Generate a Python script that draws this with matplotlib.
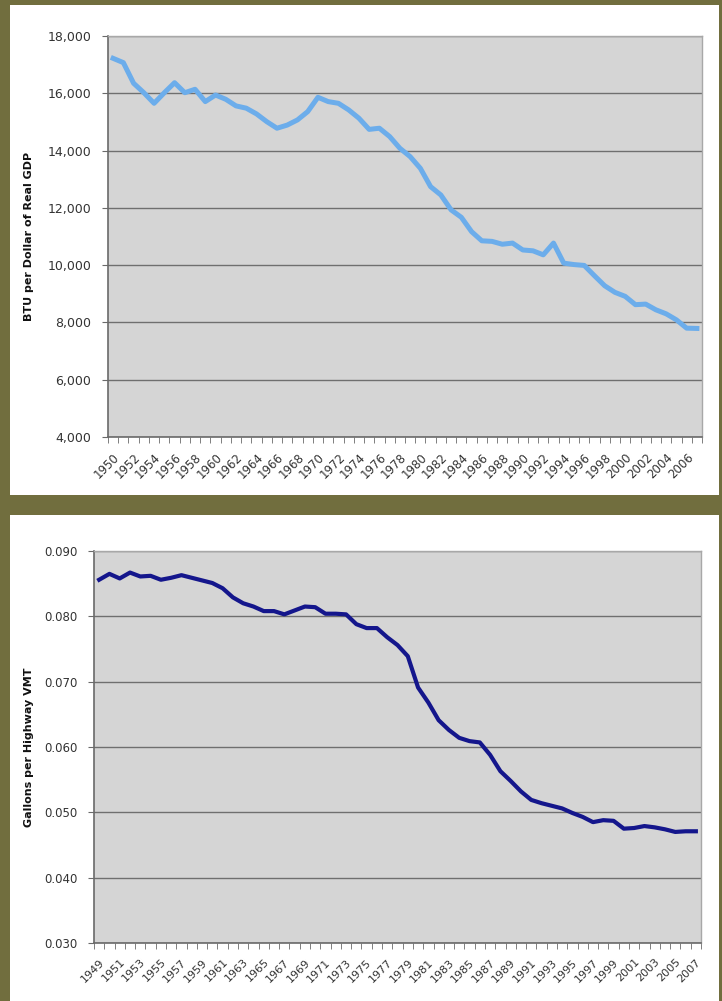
import matplotlib
matplotlib.use("Agg")
import matplotlib.pyplot as plt
from matplotlib.patches import Rectangle
from matplotlib.ticker import FuncFormatter
import numpy as np

# energy intensity of the economy, 1950-2007
gdp_years = list(range(1950, 2008))
btu_per_gdp = [17220, 17070, 16350, 16020, 15650, 16020, 16370, 16020, 16140, 15710,
               15940, 15790, 15560, 15480, 15280, 15010, 14780, 14890, 15070, 15360,
               15860, 15710, 15650, 15420, 15130, 14740, 14780, 14490, 14080, 13790,
               13380, 12740, 12450, 11930, 11670, 11170, 10850, 10830, 10730, 10770,
               10530, 10500, 10360, 10770, 10070, 10020, 9990, 9630, 9280, 9050,
               8910, 8620, 8640, 8440, 8300, 8090, 7800, 7790]

# fuel used per highway vehicle-mile, 1949-2007
vmt_years = list(range(1949, 2008))
gal_per_vmt = [0.0856, 0.0865, 0.0858, 0.0867, 0.0861, 0.0862, 0.0856, 0.0859, 0.0863, 0.0859,
               0.0855, 0.0851, 0.0843, 0.0829, 0.0820, 0.0815, 0.0808, 0.0808, 0.0803, 0.0809,
               0.0815, 0.0814, 0.0804, 0.0804, 0.0803, 0.0788, 0.0782, 0.0782, 0.0768, 0.0756,
               0.0739, 0.0691, 0.0668, 0.0641, 0.0626, 0.0614, 0.0609, 0.0607, 0.0588, 0.0563,
               0.0548, 0.0532, 0.0519, 0.0514, 0.0510, 0.0506, 0.0499, 0.0493, 0.0485, 0.0488,
               0.0487, 0.0475, 0.0476, 0.0479, 0.0477, 0.0474, 0.0470, 0.0471, 0.0471]

W, H = 722, 1001
OLIVE = "#716e3e"
PLOT_BG = "#d5d5d5"
GRID = "#6f6f6f"

fig = plt.figure(figsize=(W / 100, H / 100), dpi=100, facecolor=OLIVE)


def px_rect(x0, y0, x1, y1):
    # pixel box (top-left origin) -> figure fraction [l, b, w, h]
    return [x0 / W, 1 - y1 / H, (x1 - x0) / W, (y1 - y0) / H]


# white card behind each chart
for box in [(10, 5, 719, 495), (10, 515, 719, 1001)]:
    l, b, w, h = px_rect(*box)
    fig.patches.append(Rectangle((l, b), w, h, transform=fig.transFigure,
                                 facecolor="white", edgecolor="none", zorder=-5))


def style_axes(ax, n, labels, ylim, yticks, fmt, xsize, ysize, ylabel, label_x):
    ax.set_facecolor(PLOT_BG)
    ax.set_xlim(-0.5, n - 0.5)
    ax.set_ylim(*ylim)
    ax.set_yticks(yticks)
    ax.yaxis.set_major_formatter(FuncFormatter(fmt))
    ax.grid(axis="y", color=GRID, linewidth=1.0)
    ax.set_axisbelow(True)
    for side in ["top", "right"]:
        ax.spines[side].set_color("#a8a8a8")
        ax.spines[side].set_linewidth(1.0)
    for side in ["left", "bottom"]:
        ax.spines[side].set_color("#6a6a6a")
        ax.spines[side].set_linewidth(1.2)
    # category labels every other year, tick marks between categories
    ax.set_xticks(np.arange(0, n, 2))
    ax.set_xticklabels(labels[::2], rotation=45, ha="right", rotation_mode="anchor")
    ax.set_xticks(np.arange(-0.5, n, 1), minor=True)
    ax.tick_params(axis="x", which="major", length=0, pad=10, labelsize=xsize, colors="#333333")
    ax.tick_params(axis="x", which="minor", length=4, color="#6a6a6a", direction="out")
    ax.tick_params(axis="y", length=4, color="#6a6a6a", labelsize=ysize,
                   labelcolor="#333333", pad=8)
    ax.set_ylabel(ylabel, fontsize=8, fontweight="bold", color="#111111")
    ax.yaxis.set_label_coords(label_x, 0.5)


ax1 = fig.add_axes(px_rect(108, 36, 702, 437))
x1 = np.arange(len(gdp_years))
ax1.plot(x1, btu_per_gdp, color="#6cadeb", linewidth=3.6, solid_joinstyle="round")
style_axes(ax1, len(gdp_years), gdp_years, (4000, 18000), np.arange(4000, 18001, 2000),
           lambda v, p: f"{v:,.0f}", 8.5, 9, "BTU per Dollar of Real GDP", -0.125)

ax2 = fig.add_axes(px_rect(94, 551, 701, 943))
x2 = np.arange(len(vmt_years))
ax2.plot(x2, gal_per_vmt, color="#14168c", linewidth=3.0, solid_joinstyle="round")
style_axes(ax2, len(vmt_years), vmt_years, (0.030, 0.090), np.arange(0.030, 0.0901, 0.010),
           lambda v, p: f"{v:.3f}", 8, 8.5, "Gallons per Highway VMT", -0.099)

fig.savefig("out.png", dpi=100, facecolor=OLIVE)
